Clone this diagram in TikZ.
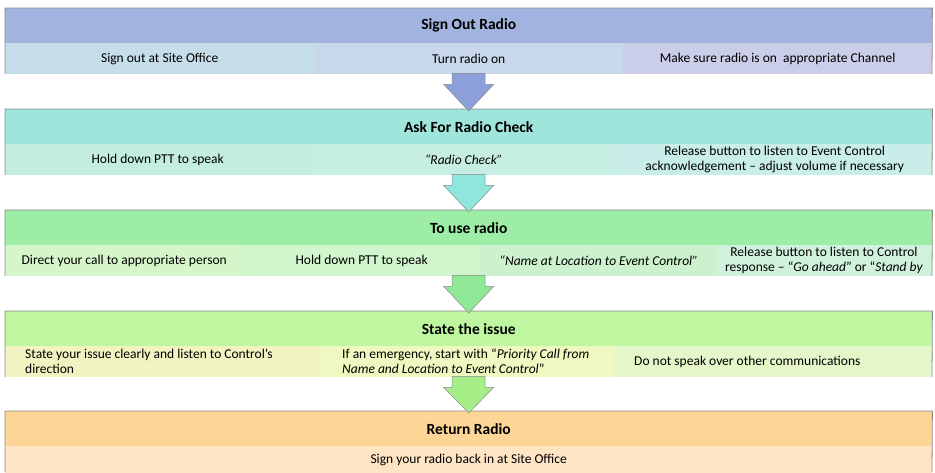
\documentclass[tikz,border=0pt]{standalone}
\usepackage{fontspec}
\setmainfont{Carlito}
\usetikzlibrary{calc}
\definecolor{hA}{HTML}{A3B3DF}\definecolor{sAa}{HTML}{C6DEEA}\definecolor{sAb}{HTML}{C8D7EA}\definecolor{sAc}{HTML}{CACEE8}
\definecolor{hB}{HTML}{9FE5DB}\definecolor{sBa}{HTML}{C3EEDD}\definecolor{sBb}{HTML}{C6EEE3}\definecolor{sBc}{HTML}{C9EDE9}
\definecolor{hC}{HTML}{9EEDA6}\definecolor{sCa}{HTML}{D5F6C9}\definecolor{sCb}{HTML}{D1F5CC}\definecolor{sCc}{HTML}{CBF2CD}\definecolor{sCd}{HTML}{D0F2DC}
\definecolor{hD}{HTML}{BFF6A0}\definecolor{sDa}{HTML}{F1F4C1}\definecolor{sDb}{HTML}{EFF8C0}\definecolor{sDc}{HTML}{E5F6C8}
\definecolor{hE}{HTML}{FDD597}\definecolor{sEa}{HTML}{FDE4C3}
\definecolor{aA}{HTML}{8C9FD8}\definecolor{aB}{HTML}{8EE6DD}\definecolor{aC}{HTML}{8EE896}\definecolor{aD}{HTML}{A6EE88}
\definecolor{edge}{HTML}{8A8A8A}
\tikzset{
  hdr/.style={rectangle, anchor=north west, minimum width=927pt, minimum height=35pt, inner sep=0pt,
    font=\fontsize{15.5}{18}\selectfont\bfseries},
  cell/.style={rectangle, anchor=north west, minimum height=31pt, inner sep=1pt, align=center,
    font=\fontsize{13.5}{15.2}\selectfont},
  lcell/.style={cell, align=left, inner xsep=0pt},
  bandedge/.style={draw=edge, line width=0.8pt},
  blockarrow/.style={draw=edge, line width=0.5pt, line join=miter}
}
\newcommand{\flowarrow}[3]{% from coordinate #1 to node #2, fill #3
  \draw[blockarrow, fill=#3] ($(#1)+(-16.5,-1)$) -- ($(#1)+(-16.5,10)$) -- ($(#1)+(-25,10)$)
    -- ($(#2.north)+(0,2)$) -- ($(#1)+(25,10)$) -- ($(#1)+(16.5,10)$) -- ($(#1)+(16.5,-1)$) -- cycle;}
\begin{document}
\begin{tikzpicture}[x=1pt,y=-1pt]
\useasboundingbox (0,0) rectangle (935,472);
% Band 1
\node[hdr, fill=hA] (h1) at (5,8) {Sign Out Radio};
\node[cell, fill=sAa, minimum width=309pt] (s1a) at (5,43) {Sign out at Site Office};
\node[cell, fill=sAb, minimum width=309pt] (s1b) at (314,43) {Turn radio on};
\node[cell, fill=sAc, minimum width=309pt] (s1c) at (623,43) {Make sure radio is on\ \ appropriate Channel};
\draw[bandedge] (5,74) -- (h1.north west) -- (h1.north east) -- (932,74);
% Band 2
\node[hdr, fill=hB] (h2) at (5,109) {Ask For Radio Check};
\node[cell, fill=sBa, minimum width=305pt] (s2a) at (5,144) {Hold down PTT to speak};
\node[cell, fill=sBb, minimum width=307pt] (s2b) at (310,144) {\itshape “Radio Check”};
\node[cell, fill=sBc, minimum width=315pt] (s2c) at (617,144) {Release button to listen to Event Control\\acknowledgement – adjust volume if necessary};
\draw[bandedge] (5,175) -- (h2.north west) -- (h2.north east) -- (932,175);
% Band 3
\node[hdr, fill=hC] (h3) at (5,210) {To use radio};
\node[cell, fill=sCa, minimum width=238pt] (s3a) at (5,245) {Direct your call to appropriate person};
\node[cell, fill=sCb, minimum width=237pt] (s3b) at (243,245) {Hold down PTT to speak};
\node[cell, fill=sCc, minimum width=237pt] (s3c) at (480,245) {\itshape “Name at Location to Event Control”};
\node[cell, fill=sCd, minimum width=215pt] (s3d) at (717,245) {};
\node[cell, anchor=center] (s3dt) at (824,260.5) {Release button to listen to Control\\response – “\textit{Go ahead}” or “\textit{Stand by}};
\draw[bandedge] (5,276) -- (h3.north west) -- (h3.north east) -- (932,276);
% Band 4
\node[hdr, fill=hD] (h4) at (5,311) {State the issue};
\node[cell, fill=sDa, minimum width=317pt] (s4a) at (5,346) {};
\node[lcell, anchor=west] (s4at) at (25,361.5) {State your issue clearly and listen to Control’s\\direction};
\node[cell, fill=sDb, minimum width=292pt] (s4b) at (322,346) {};
\node[lcell, anchor=west] (s4bt) at (342,361.5) {If an emergency, start with “\textit{Priority Call from}\\\textit{Name and Location to Event Control}”};
\node[cell, fill=sDc, minimum width=318pt] (s4c) at (614,346) {};
\node[lcell, anchor=west] (s4ct) at (634,361.5) {Do not speak over other communications};
\draw[bandedge] (5,377) -- (h4.north west) -- (h4.north east) -- (932,377);
% Band 5
\node[hdr, fill=hE] (h5) at (5,411) {Return Radio};
\node[cell, fill=sEa, minimum width=927pt, minimum height=27pt] (s5a) at (5,446) {Sign your radio back in at Site Office};
\draw[bandedge] (5,472) -- (h5.north west) -- (h5.north east) -- (932,472);
% Arrows
\coordinate (e1) at (h1.south |- s1a.south);
\coordinate (e2) at (h2.south |- s2a.south);
\coordinate (e3) at (h3.south |- s3a.south);
\coordinate (e4) at (h4.south |- s4a.south);
\flowarrow{e1}{h2}{aA}
\flowarrow{e2}{h3}{aB}
\flowarrow{e3}{h4}{aC}
\flowarrow{e4}{h5}{aD}
\end{tikzpicture}
\end{document}
